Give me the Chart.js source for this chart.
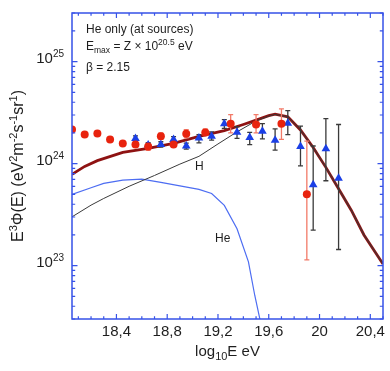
<!DOCTYPE html>
<html>
<head>
<meta charset="utf-8">
<script src="https://cdn.jsdelivr.net/npm/chart.js@4.4.0/dist/chart.umd.min.js"></script>
<style>
  html, body { margin:0; padding:0; background:#fff; }
  #wrap { position:relative; width:390px; height:371px; }
</style>
</head>
<body>
<div id="wrap"><canvas id="c"></canvas></div>
<script>
// --- data (log10 E in eV, E^3 flux in eV^2 m^-2 s^-1 sr^-1) ---
const redE    = [18.05, 18.15, 18.25, 18.35, 18.45, 18.55, 18.65, 18.75, 18.85, 18.95, 19.1, 19.3, 19.5, 19.7, 19.9];
const redFlux = [2.16e24, 1.93e24, 1.98e24, 1.73e24, 1.58e24, 1.54e24, 1.47e24, 1.86e24, 1.54e24, 1.96e24, 2.02e24, 2.46e24, 2.42e24, 2.46e24, 5.0e23];
const redLo   = [null, null, null, null, null, null, 1.35e24, 1.73e24, 1.45e24, 1.79e24, 1.89e24, 2.00e24, 2.00e24, 1.73e24, 1.14e23];
const redHi   = [null, null, null, null, null, null, 1.57e24, 2.00e24, 1.62e24, 2.16e24, 2.19e24, 3.03e24, 3.03e24, 3.44e24, 1.66e24];

const blueE    = [18.55, 18.65, 18.75, 18.85, 18.95, 19.05, 19.15, 19.25, 19.35, 19.45, 19.55, 19.65, 19.75, 19.85, 19.95, 20.05, 20.15];
const blueFlux = [1.76e24, 1.52e24, 1.54e24, 1.73e24, 1.49e24, 1.78e24, 1.86e24, 2.46e24, 2.03e24, 1.81e24, 2.08e24, 1.70e24, 2.49e24, 1.47e24, 6.2e23, 1.40e24, 7.2e23];
const blueLo   = [1.66e24, 1.43e24, 1.45e24, 1.62e24, 1.39e24, 1.60e24, 1.70e24, 2.22e24, 1.77e24, 1.54e24, 1.75e24, 1.36e24, 1.93e24, 9.5e23, 2.23e23, 6.8e23, 1.44e23];
const blueHi   = [1.87e24, 1.61e24, 1.64e24, 1.84e24, 1.59e24, 1.93e24, 2.05e24, 2.70e24, 2.30e24, 2.03e24, 2.47e24, 2.19e24, 3.31e24, 2.33e24, 1.49e24, 2.77e24, 2.42e24];

const totalE    = [18.05, 18.15, 18.25, 18.45, 18.65, 18.85, 19.05, 19.25, 19.4, 19.5, 19.6, 19.65, 19.75, 19.85, 19.95, 20.05, 20.15, 20.25, 20.35, 20.5];
const totalFlux = [7.87e23, 9.4e23, 1.07e24, 1.29e24, 1.41e24, 1.58e24, 1.85e24, 2.11e24, 2.42e24, 2.67e24, 2.96e24, 3.06e24, 2.88e24, 2.14e24, 1.44e24, 9.2e23, 5.68e23, 3.5e23, 2.0e23, 1.04e23];

const hE    = [18.05, 18.2, 18.3, 18.5, 18.7, 18.9, 19.05, 19.2, 19.35, 19.5, 19.6, 19.65, 19.75, 19.85, 19.95, 20.05, 20.15, 20.25, 20.35, 20.5];
const hFlux = [3.01e23, 3.92e23, 4.56e23, 6.0e23, 7.66e23, 9.9e23, 1.18e24, 1.56e24, 2.05e24, 2.62e24, 2.93e24, 3.04e24, 2.88e24, 2.14e24, 1.44e24, 9.2e23, 5.68e23, 3.5e23, 2.0e23, 1.04e23];

const heE    = [18.05, 18.2, 18.3, 18.45, 18.6, 18.75, 18.9, 19.05, 19.15, 19.25, 19.35, 19.44, 19.49, 19.55];
const heFlux = [5.0e23, 5.8e23, 6.4e23, 6.9e23, 7.05e23, 6.55e23, 6.05e23, 5.6e23, 5.1e23, 3.9e23, 2.3e23, 1.09e23, 5.1e22, 2.3e22];

const xTickValues = [18.4, 18.8, 19.2, 19.6, 20.0, 20.4];
const xTickLabels = ['18,4', '18,8', '19,2', '19,6', '20', '20,4'];
const yTickExps   = [23, 24, 25];

const FONT = '"Liberation Sans", Arial, Helvetica, sans-serif';
const COL = {
  frame: '#3652e8',
  txt:   '#1e1e1e',
  red:   '#e8230e',
  redBar:'#f27a68',
  blue:  '#1b3fe6',
  bar:   '#3a3a3a',
  total: '#8e1212',
  h:     '#3a3a3a',
  he:    '#4d6df2',
};

const pts = (xs, ys) => xs.map((x, i) => ({ x, y: ys[i] }));

// text with sub/superscripts: parts = [[text, ''|'sup'|'sub'], ...]
function rich(ctx, x, y, parts, size, align, small) {
  small = small || Math.round(size * 0.7);
  let w = 0;
  const ws = parts.map(([t, k]) => {
    ctx.font = (k ? small : size) + 'px ' + FONT;
    const pw = ctx.measureText(t).width;
    w += pw;
    return pw;
  });
  let cx = align === 'center' ? x - w / 2 : align === 'right' ? x - w : x;
  ctx.textAlign = 'left';
  ctx.textBaseline = 'alphabetic';
  parts.forEach(([t, k], i) => {
    ctx.font = (k ? small : size) + 'px ' + FONT;
    const dy = k === 'sup' ? -size * 0.4 : k === 'sub' ? size * 0.25 : 0;
    ctx.fillText(t, cx, y + dy);
    cx += ws[i];
  });
}

function bars(ctx, xs, xv, lo, hi, color) {
  const sx = xs.x, sy = xs.y;
  ctx.save();
  ctx.strokeStyle = color;
  ctx.lineWidth = 1.3;
  xv.forEach((e, i) => {
    if (lo[i] == null) return;
    const px = sx.getPixelForValue(e);
    const y1 = sy.getPixelForValue(lo[i]);
    const y2 = sy.getPixelForValue(hi[i]);
    ctx.beginPath();
    ctx.moveTo(px, y1); ctx.lineTo(px, y2);
    ctx.moveTo(px - 2.5, y1); ctx.lineTo(px + 2.5, y1);
    ctx.moveTo(px - 2.5, y2); ctx.lineTo(px + 2.5, y2);
    ctx.stroke();
  });
  ctx.restore();
}

const errorBars = {
  id: 'errorBars',
  beforeDatasetDraw(chart, args) {
    if (chart.data.datasets[args.index].label !== 'blue') return;
    const { ctx, scales } = chart;
    ctx.save();
    const a = chart.chartArea;
    ctx.beginPath(); ctx.rect(a.left, a.top, a.right - a.left, a.bottom - a.top); ctx.clip();
    bars(ctx, scales, redE, redLo, redHi, COL.redBar);
    bars(ctx, scales, blueE, blueLo, blueHi, COL.bar);
    ctx.restore();
  }
};

const frame = {
  id: 'frame',
  afterDraw(chart) {
    const { ctx, chartArea: a, scales: { x, y } } = chart;
    ctx.save();
    ctx.strokeStyle = COL.frame;
    ctx.lineWidth = 1.5;
    ctx.strokeRect(a.left, a.top, a.right - a.left, a.bottom - a.top);

    ctx.lineWidth = 1.2;
    ctx.beginPath();
    // x ticks, minor every 0.1
    for (let k = 181; k <= 205; k++) {
      const v = k / 10;
      const px = x.getPixelForValue(v);
      const major = xTickValues.some(t => Math.abs(t - v) < 1e-6);
      const len = major ? 5 : 2.8;
      ctx.moveTo(px, a.bottom); ctx.lineTo(px, a.bottom - len);
      ctx.moveTo(px, a.top); ctx.lineTo(px, a.top + len);
    }
    // y ticks, log minor
    for (let d = 22; d <= 25; d++) {
      for (let m = 1; m <= 9; m++) {
        const v = m * Math.pow(10, d);
        if (v < y.min * 0.999 || v > y.max * 1.001) continue;
        const py = y.getPixelForValue(v);
        const len = m === 1 ? 5.5 : 3.2;
        ctx.moveTo(a.left, py); ctx.lineTo(a.left + len, py);
        ctx.moveTo(a.right, py); ctx.lineTo(a.right - len, py);
      }
    }
    ctx.stroke();

    ctx.fillStyle = COL.txt;
    // x tick labels
    xTickValues.forEach((v, i) => {
      rich(ctx, x.getPixelForValue(v), a.bottom + 17, [[xTickLabels[i], '']], 15, 'center');
    });
    // y tick labels 10^n
    yTickExps.forEach(n => {
      const py = y.getPixelForValue(Math.pow(10, n));
      rich(ctx, a.left - 8, py + 1.5, [['10', ''], [String(n), 'sup']], 15, 'right', 10);
    });

    // axis titles
    rich(ctx, (a.left + a.right) / 2, 356, [['log', ''], ['10', 'sub'], ['E eV', '']], 15, 'center', 11);
    ctx.save();
    ctx.translate(23, (a.top + a.bottom) / 2);
    ctx.rotate(-Math.PI / 2);
    rich(ctx, 0, 0, [['E', ''], ['3', 'sup'], ['\u03A6(E) (eV', ''], ['2', 'sup'], ['m', ''], ['-2', 'sup'],
                     ['s', ''], ['-1', 'sup'], ['sr', ''], ['1', 'sup'], [')', '']], 16, 'center', 11);
    ctx.restore();

    // annotations
    rich(ctx, 86, 33, [['He only (at sources)', '']], 12, 'left');
    rich(ctx, 86, 49.5, [['E', ''], ['max', 'sub'], [' = Z \u00D7 10', ''], ['20.5', 'sup'], [' eV', '']], 12, 'left', 8.5);
    rich(ctx, 86, 71, [['\u03B2 = 2.15', '']], 12, 'left');
    rich(ctx, 195, 170, [['H', '']], 12, 'left');
    rich(ctx, 215, 241.5, [['He', '']], 12, 'left');
    ctx.restore();
  }
};

new Chart(document.getElementById('c').getContext('2d'), {
  type: 'scatter',
  data: {
    datasets: [
      { label: 'red', data: pts(redE, redFlux), pointStyle: 'circle', pointRadius: 4,
        backgroundColor: COL.red, borderWidth: 0, showLine: false, order: 0 },
      { label: 'blue', data: pts(blueE, blueFlux), pointStyle: 'triangle', pointRadius: 5,
        backgroundColor: COL.blue, borderWidth: 0, showLine: false, order: 1 },
      { label: 'H', data: pts(hE, hFlux), showLine: true, pointRadius: 0,
        borderColor: COL.h, borderWidth: 1, tension: 0, order: 2 },
      { label: 'total', data: pts(totalE, totalFlux), showLine: true, pointRadius: 0,
        borderColor: COL.total, borderWidth: 2.8, tension: 0, order: 3 },
      { label: 'He', data: pts(heE, heFlux), showLine: true, pointRadius: 0,
        borderColor: COL.he, borderWidth: 1.2, tension: 0, order: 4 },
    ]
  },
  options: {
    responsive: true, maintainAspectRatio: false, animation: false,
    layout: { padding: { top: 13, right: 7, left: 0, bottom: 0 } },
    plugins: { legend: { display: false }, tooltip: { enabled: false } },
    scales: {
      x: {
        type: 'linear', min: 18.05, max: 20.5,
        grid: { display: false }, border: { display: false },
        ticks: { display: false },
        afterFit: s => { s.height = 52; },
      },
      y: {
        type: 'logarithmic', min: 3e22, max: 3e25,
        grid: { display: false }, border: { display: false },
        ticks: { display: false },
        afterFit: s => { s.width = 72; },
      },
    },
  },
  plugins: [errorBars, frame],
});
</script>
</body>
</html>
